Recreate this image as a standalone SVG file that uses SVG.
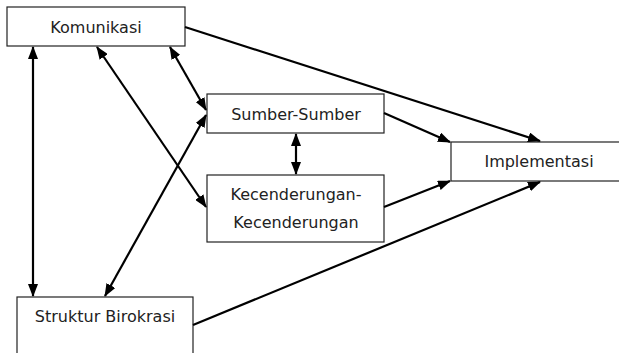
<svg xmlns="http://www.w3.org/2000/svg" width="619" height="353" viewBox="0 0 619 353">
<style>
.box{fill:#fff;stroke:#222;stroke-width:1.2}
.lbl{font-family:"DejaVu Sans ExtraLight","DejaVu Sans",sans-serif;font-size:16px;fill:#222;text-anchor:middle}
.c{stroke:#000;stroke-width:2.2;fill:none}
.d{marker-start:url(#ah);marker-end:url(#ah)}
.s{marker-end:url(#ah)}
</style>
<defs>
<marker id="ah" markerUnits="userSpaceOnUse" markerWidth="13" markerHeight="10" refX="12" refY="5" orient="auto-start-reverse" viewBox="0 0 13 10">
<path d="M0,0 L13,5 L0,10 z" fill="#000"/>
</marker>
</defs>
<g id="komunikasi"><rect class="box" x="7" y="7" width="178" height="39"/><text class="lbl" x="96" y="33">Komunikasi</text></g>
<g id="sumber"><rect class="box" x="207" y="94" width="177" height="39"/><text class="lbl" x="296" y="120">Sumber-Sumber</text></g>
<g id="kecenderungan"><rect class="box" x="207" y="175" width="177" height="67"/><text class="lbl" x="296" y="200">Kecenderungan-</text><text class="lbl" x="296" y="228">Kecenderungan</text></g>
<g id="implementasi"><rect class="box" x="451" y="142" width="175" height="39"/><text class="lbl" x="539" y="167">Implementasi</text></g>
<g id="struktur"><rect class="box" x="17" y="297" width="176" height="70"/><text class="lbl" x="105" y="322">Struktur Birokrasi</text></g>
<g id="connectors">
<line class="c d" x1="33" y1="47" x2="33" y2="296"/>
<line class="c d" x1="97" y1="47" x2="206" y2="207"/>
<line class="c d" x1="170" y1="47" x2="206" y2="110"/>
<line class="c d" x1="105" y1="296" x2="206" y2="115"/>
<line class="c d" x1="296" y1="134" x2="296" y2="174"/>
<line class="c s" x1="185" y1="27" x2="540" y2="141"/>
<line class="c s" x1="384" y1="113" x2="450" y2="142"/>
<line class="c s" x1="384" y1="207" x2="450" y2="181"/>
<line class="c s" x1="193" y1="325" x2="540" y2="182"/>
</g>
</svg>
